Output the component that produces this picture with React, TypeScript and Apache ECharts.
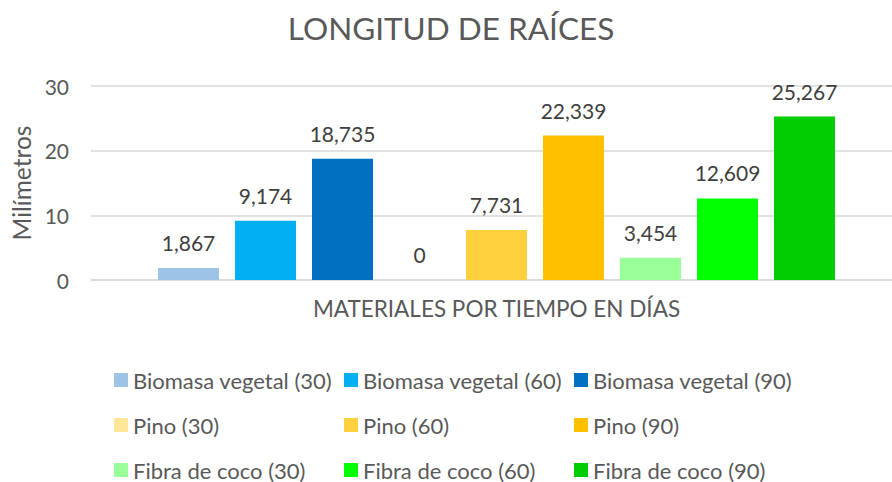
import React, { useEffect, useRef } from "react";
import * as echarts from "echarts";

const categories = [""];
const seriesNames = [
  "Biomasa vegetal (30)",
  "Biomasa vegetal (60)",
  "Biomasa vegetal (90)",
  "Pino (30)",
  "Pino (60)",
  "Pino (90)",
  "Fibra de coco (30)",
  "Fibra de coco (60)",
  "Fibra de coco (90)",
];
const seriesValues = [1.867, 9.174, 18.735, 0, 7.731, 22.339, 3.454, 12.609, 25.267];
const seriesColors = [
  "#9DC3E6",
  "#00B0F0",
  "#0070C0",
  "#FFE699",
  "#FFD03D",
  "#FFC000",
  "#99FF99",
  "#00FF00",
  "#00CC00",
];
const yTicks = [0, 10, 20, 30];

const FONT = "Lato";

function fmt(v: number) {
  return v === 0 ? "0" : v.toFixed(3).replace(".", ",");
}

export default function App() {
  const ref = useRef<HTMLDivElement>(null);
  useEffect(() => {
    document.body.style.margin = "0";
    document.body.style.overflow = "hidden";
    const chart = echarts.init(ref.current!, null, { renderer: "svg" });
    const legends = seriesNames.map((name, i) => ({
      orient: "horizontal" as const,
      left: 114 + (i % 3) * 230,
      top: 369 + Math.floor(i / 3) * 45,
      padding: 0,
      itemWidth: 14,
      itemHeight: 14,
      icon: "rect",
      data: [name],
      textStyle: { fontFamily: FONT, fontSize: 22, color: "#595959", lineHeight: 22 },
      selectedMode: false,
    }));
    chart.setOption({
      animation: false,
      textStyle: { fontFamily: FONT },
      title: {
        text: "LONGITUD DE RAÍCES",
        left: 446,
        textAlign: "center",
        top: 7,
        textStyle: { fontFamily: FONT, fontSize: 31.5, fontWeight: "normal", color: "#595959" },
      },
      legend: legends,
      grid: { left: 91, right: 0, top: 86, bottom: 202 },
      xAxis: {
        type: "category",
        data: categories,
        name: "MATERIALES POR TIEMPO EN DÍAS",
        nameLocation: "middle",
        nameGap: 17,
        nameTextStyle: { fontFamily: FONT, fontSize: 22.5, color: "#595959" },
        axisLine: { show: true, lineStyle: { color: "#D9D9D9", width: 1.5 } },
        axisTick: { show: false },
        axisLabel: { show: false },
      },
      yAxis: {
        type: "value",
        min: yTicks[0],
        max: yTicks[yTicks.length - 1],
        interval: 10,
        name: "Milímetros",
        nameLocation: "middle",
        nameGap: 55,
        nameTextStyle: { fontFamily: FONT, fontSize: 24.5, color: "#595959" },
        axisLine: { show: false },
        axisTick: { show: false },
        axisLabel: { fontFamily: FONT, fontSize: 21, color: "#595959", margin: 22 },
        splitLine: { lineStyle: { color: "#D9D9D9", width: 1.5 } },
      },
      series: seriesNames.map((name, i) => ({
        name,
        type: "bar",
        data: [seriesValues[i]],
        barWidth: 61,
        barGap: "26.23%",
        itemStyle: { color: seriesColors[i] },
        label: {
          show: true,
          position: "top",
          distance: 15,
          fontFamily: FONT,
          fontSize: 21,
          color: "#404040",
          formatter: (p: any) => fmt(p.value),
        },
      })),
    });
    return () => chart.dispose();
  }, []);
  return <div ref={ref} style={{ width: 902, height: 482 }} />;
}
